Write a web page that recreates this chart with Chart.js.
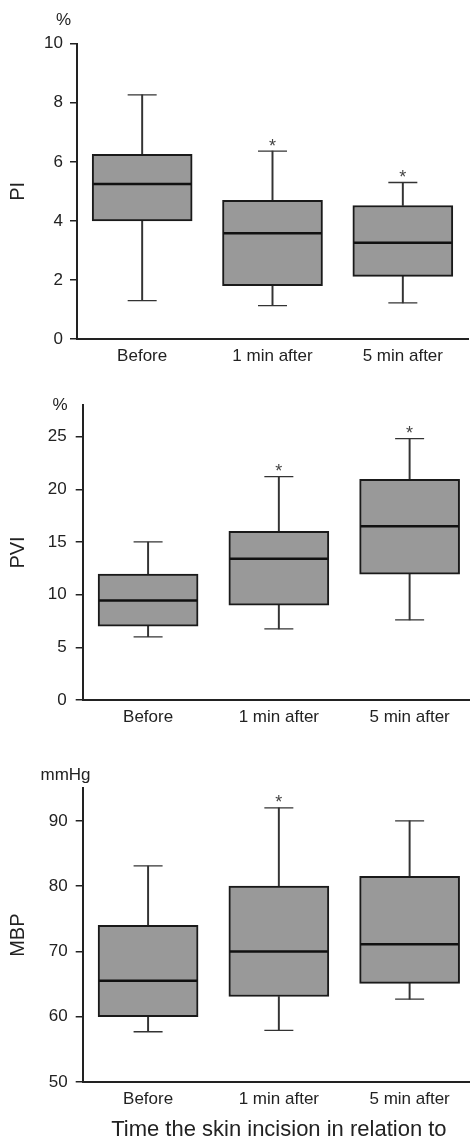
<!DOCTYPE html>
<html>
<head>
<meta charset="utf-8">
<script src="https://cdn.jsdelivr.net/npm/chart.js@4.4.0/dist/chart.umd.min.js"></script>
<style>
  html, body { margin: 0; padding: 0; background: #fff; }
  #wrap { position: relative; width: 470px; height: 1140px; overflow: hidden; }
  #wrap canvas { position: absolute; left: 0; }
</style>
</head>
<body>
<div id="wrap">
  <canvas id="pi"></canvas>
  <canvas id="pvi"></canvas>
  <canvas id="mbp"></canvas>
</div>
<script>
const categories = ["Before", "1 min after", "5 min after"];

// PI (%)
const piLow = [1.3, 1.13, 1.22];
const piQ1 = [4.0, 1.81, 2.12];
const piMedian = [5.25, 3.58, 3.26];
const piQ3 = [6.25, 4.7, 4.52];
const piHigh = [8.27, 6.36, 5.3];
const piStar = [false, true, true];
const piRange = [0, 10];
const piTickValues = [0, 2, 4, 6, 8, 10];

// PVI (%)
const pviLow = [6.0, 6.75, 7.6];
const pviQ1 = [7.0, 9.0, 11.95];
const pviMedian = [9.45, 13.4, 16.5];
const pviQ3 = [11.95, 16.0, 20.95];
const pviHigh = [15.0, 21.2, 24.8];
const pviStar = [false, true, true];
const pviRange = [0, 28];
const pviTickValues = [0, 5, 10, 15, 20, 25];

// MBP (mmHg)
const mbpLow = [57.7, 57.9, 62.7];
const mbpQ1 = [60, 63.1, 65.1];
const mbpMedian = [65.5, 70, 71.1];
const mbpQ3 = [74, 80, 81.5];
const mbpHigh = [83.1, 92, 90];
const mbpStar = [false, true, false];
const mbpRange = [50, 95];
const mbpTickValues = [50, 60, 70, 80, 90];

const FONT = '"Liberation Sans", Arial, sans-serif';
const INK = "#222";
const BOX_FILL = "#999999";
const CANVAS_W = 478;

function makePanel(id, p) {
  const canvas = document.getElementById(id);
  const height = p.chartBottom - p.top + p.xHeight;
  canvas.width = CANVAS_W;
  canvas.height = Math.ceil(height);
  canvas.style.top = p.top + "px";

  // asterisks above whiskers + unit label over the y axis
  const extras = {
    id: "extras" + id,
    afterDatasetsDraw(chart) {
      const { ctx, scales: { x, y } } = chart;
      ctx.save();
      ctx.fillStyle = "#444";
      ctx.textAlign = "center";
      ctx.textBaseline = "alphabetic";
      ctx.font = "18px " + FONT;
      p.star.forEach((s, i) => {
        if (!s) return;
        ctx.fillText("*", x.getPixelForValue(i), y.getPixelForValue(p.high[i]) + 0.5);
      });
      ctx.fillStyle = INK;
      ctx.font = "17px " + FONT;
      ctx.fillText(p.unit, p.unitX, p.unitY - p.top);
      ctx.restore();
    }
  };

  return new Chart(canvas, {
    type: "bar",
    data: {
      labels: categories,
      datasets: [
        {
          label: "median",
          type: "line",
          data: p.median,
          showLine: false,
          pointStyle: "line",
          pointRadius: 49,
          pointHoverRadius: 49,
          pointBorderWidth: 2.5,
          pointHoverBorderWidth: 2.5,
          pointBorderColor: "#111",
          order: 0
        },
        {
          label: "high cap",
          type: "line",
          data: p.high,
          showLine: false,
          pointStyle: "line",
          pointRadius: 14.5,
          pointHoverRadius: 14.5,
          pointBorderWidth: 1.3,
          pointBorderColor: "#333",
          order: 0
        },
        {
          label: "low cap",
          type: "line",
          data: p.low,
          showLine: false,
          pointStyle: "line",
          pointRadius: 14.5,
          pointHoverRadius: 14.5,
          pointBorderWidth: 1.3,
          pointBorderColor: "#333",
          order: 0
        },
        {
          label: "box",
          data: p.q1.map((v, i) => [v, p.q3[i]]),
          backgroundColor: BOX_FILL,
          borderColor: "#1a1a1a",
          borderWidth: 2,
          borderSkipped: false,
          barThickness: 100,
          grouped: false,
          order: 1
        },
        {
          label: "upper whisker",
          data: p.q3.map((v, i) => [v, p.high[i]]),
          backgroundColor: "#333",
          barThickness: 1.3,
          grouped: false,
          order: 2
        },
        {
          label: "lower whisker",
          data: p.low.map((v, i) => [v, p.q1[i]]),
          backgroundColor: "#333",
          barThickness: 1.3,
          grouped: false,
          order: 2
        }
      ]
    },
    options: {
      responsive: false,
      animation: false,
      events: [],
      layout: {
        autoPadding: false,
        padding: { left: 0, top: p.chartTop - p.top, right: CANVAS_W - p.right, bottom: 0 }
      },
      plugins: {
        legend: { display: false },
        tooltip: { enabled: false }
      },
      scales: {
        x: {
          grid: { display: false, drawTicks: false },
          border: { display: true, color: INK, width: 2 },
          ticks: { color: INK, padding: 7, maxRotation: 0, font: { size: 17, family: FONT } },
          title: {
            display: !!p.xTitle,
            text: p.xTitle || "",
            color: INK,
            font: { size: 22, family: FONT },
            padding: { top: 0, bottom: 0 }
          },
          afterFit(scale) { scale.height = p.xHeight; }
        },
        y: {
          min: p.range[0],
          max: p.range[1],
          bounds: "data",
          grid: {
            display: true,
            drawOnChartArea: false,
            drawTicks: true,
            tickLength: 7,
            color: INK,
            lineWidth: 1.5
          },
          border: { display: true, color: INK, width: 2 },
          ticks: {
            color: INK,
            padding: p.tickPad,
            font: { size: 17, family: FONT }
          },
          afterBuildTicks(scale) {
            scale.ticks = p.tickValues.map(v => ({ value: v }));
          },
          title: {
            display: true,
            text: p.yTitle,
            color: INK,
            font: { size: 20, family: FONT },
            padding: { top: 6, bottom: 0 }
          },
          afterFit(scale) { scale.width = p.left; }
        }
      }
    },
    plugins: [extras]
  });
}

makePanel("pi", {
  low: piLow, q1: piQ1, median: piMedian, q3: piQ3, high: piHigh, star: piStar,
  range: piRange, tickValues: piTickValues, yTitle: "PI", unit: "%",
  top: 0, chartTop: 43.7, chartBottom: 338.3, left: 77, right: 468,
  xHeight: 32, tickPad: 7, unitX: 63.5, unitY: 25
});

makePanel("pvi", {
  low: pviLow, q1: pviQ1, median: pviMedian, q3: pviQ3, high: pviHigh, star: pviStar,
  range: pviRange, tickValues: pviTickValues, yTitle: "PVI", unit: "%",
  top: 370, chartTop: 405, chartBottom: 699.3, left: 82.7, right: 475,
  xHeight: 32, tickPad: 9, unitX: 60, unitY: 410
});

makePanel("mbp", {
  low: mbpLow, q1: mbpQ1, median: mbpMedian, q3: mbpQ3, high: mbpHigh, star: mbpStar,
  range: mbpRange, tickValues: mbpTickValues, yTitle: "MBP", unit: "mmHg",
  xTitle: "Time the skin incision in relation to",
  top: 750, chartTop: 788.3, chartBottom: 1081.7, left: 82.7, right: 475,
  xHeight: 61, tickPad: 8, unitX: 65.5, unitY: 780
});
</script>
</body>
</html>
